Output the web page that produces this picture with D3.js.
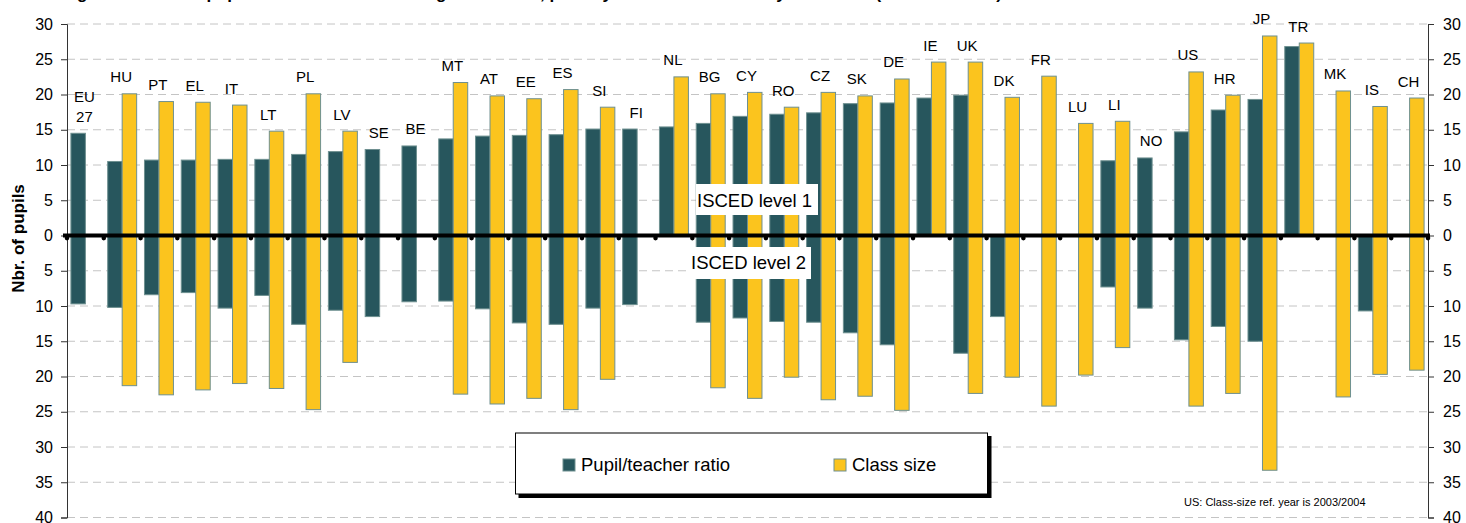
<!DOCTYPE html>
<html>
<head>
<meta charset="utf-8">
<script src="https://cdn.jsdelivr.net/npm/d3@7"></script>
<style>
  html, body { margin: 0; padding: 0; background: #fff; }
  svg { display: block; font-family: "Liberation Sans", Arial, sans-serif; }
</style>
</head>
<body>
<svg id="chart" width="1466" height="523"></svg>
<script>
// ---- data ----
const categories = ["EU\n27","HU","PT","EL","IT","LT","PL","LV","SE","BE","MT","AT","EE","ES","SI","FI","NL","BG","CY","RO","CZ","SK","DE","IE","UK","DK","FR","LU","LI","NO","US","HR","JP","TR","MK","IS","CH"];
// ISCED level 1 (upper half)
const ptrLevel1 = [14.5,10.5,10.7,10.7,10.8,10.8,11.5,11.9,12.2,12.7,13.7,14.1,14.2,14.3,15.1,15.1,15.4,15.9,16.9,17.2,17.4,18.7,18.8,19.5,19.9,null,null,null,10.6,11.0,14.7,17.8,19.3,26.8,null,null,null];
const csLevel1  = [null,20.1,19.0,18.9,18.5,14.8,20.1,14.8,null,null,21.7,19.8,19.4,20.7,18.2,null,22.5,20.1,20.3,18.2,20.3,19.8,22.2,24.6,24.6,19.6,22.6,15.9,16.2,null,23.2,19.9,28.3,27.3,20.5,18.3,19.5];
// ISCED level 2 (lower half)
const ptrLevel2 = [9.7,10.2,8.4,8.1,10.3,8.5,12.6,10.6,11.5,9.4,9.3,10.4,12.4,12.6,10.3,9.8,null,12.3,11.7,12.2,12.3,13.8,15.5,null,16.7,11.5,null,null,7.3,10.3,14.8,12.9,15.0,null,null,10.7,null];
const csLevel2  = [null,21.3,22.6,21.9,21.0,21.7,24.7,18.0,null,null,22.5,23.9,23.1,24.7,20.4,null,null,21.6,23.1,20.1,23.3,22.8,24.8,null,22.4,20.1,24.2,19.8,15.9,null,24.2,22.4,33.3,null,22.9,19.7,19.1];
const yTicks = [30,25,20,15,10,5,0,-5,-10,-15,-20,-25,-30,-35,-40];
const seriesNames = ["Pupil/teacher ratio","Class size"];
const levelLabels = ["ISCED level 1","ISCED level 2"];
const titleText = "Figure 1: Ratio of pupils to teachers and average class size, primary and lower secondary education (ISCED 1 and 2)";
const noteText = "US: Class-size ref. year is 2003/2004";

// ---- layout ----
const C_PTR = "#27565d", C_CS = "#fbc41e", C_EDGE = "#6e9090";
const svg = d3.select("#chart");
const L = 67, R = 1428;
const y = d3.scaleLinear().domain([30, -40]).range([24, 517.5]);
const x = d3.scaleBand().domain(categories).range([L, R]).padding(0);
const x1 = d3.scaleBand().domain(["ptr","cs"]).range([0, x.bandwidth()]).paddingInner(0).paddingOuter(0.27);

// title (mostly outside the picture, as in the reference)
svg.append("text").attr("x", 62).attr("y", -1)
  .attr("font-size", 17).attr("font-weight", "bold").attr("fill", "#000").text(titleText);

// gridlines
svg.append("g").selectAll("line").data(yTicks.filter(d => d !== 0)).join("line")
  .attr("x1", L).attr("x2", R).attr("y1", d => y(d)).attr("y2", d => y(d))
  .attr("stroke", "#c4c4c4").attr("stroke-width", 1).attr("stroke-dasharray", "8,5");

// bars
const rows = categories.map((c, i) => ({c, p1: ptrLevel1[i], s1: csLevel1[i], p2: ptrLevel2[i], s2: csLevel2[i]}));
const bars = [];
rows.forEach(r => {
  if (r.p1 != null) bars.push({c: r.c, k: "ptr", v: r.p1});
  if (r.s1 != null) bars.push({c: r.c, k: "cs", v: r.s1});
  if (r.p2 != null) bars.push({c: r.c, k: "ptr", v: -r.p2});
  if (r.s2 != null) bars.push({c: r.c, k: "cs", v: -r.s2});
});
svg.append("g").selectAll("rect").data(bars).join("rect")
  .attr("x", d => x(d.c) + x1(d.k))
  .attr("width", x1.bandwidth())
  .attr("y", d => Math.min(y(0), y(d.v)))
  .attr("height", d => Math.abs(y(d.v) - y(0)))
  .attr("fill", d => d.k === "ptr" ? C_PTR : C_CS)
  .attr("stroke", C_EDGE).attr("stroke-width", 1);

// axes
const fmt = d => Math.abs(d);
const axL = svg.append("g").attr("transform", `translate(${L},0)`)
  .call(d3.axisLeft(y).tickValues(yTicks).tickFormat(fmt).tickSize(6).tickPadding(8));
const axR = svg.append("g").attr("transform", `translate(${R},0)`)
  .call(d3.axisRight(y).tickValues(yTicks).tickFormat(fmt).tickSize(6).tickPadding(9));
[axL, axR].forEach(a => {
  a.select(".domain").attr("stroke", "#333");
  a.selectAll(".tick line").attr("stroke", "#333");
  a.selectAll(".tick text").attr("font-size", 16).attr("fill", "#000")
    .attr("font-family", "Liberation Sans, Arial, sans-serif");
});

// zero line with markers
svg.append("line").attr("x1", L - 4).attr("x2", R + 2).attr("y1", y(0)).attr("y2", y(0))
  .attr("stroke", "#000").attr("stroke-width", 4);
const bounds = categories.map(c => x(c)).concat([R]);
svg.append("g").selectAll("circle").data(bounds).join("circle")
  .attr("cx", d => d).attr("cy", y(0) + 2.6).attr("r", 2.3).attr("fill", "#000");

// level labels with white boxes
svg.append("rect").attr("x", 696).attr("y", 184).attr("width", 122).attr("height", 31).attr("fill", "#fff");
svg.append("text").attr("x", 697).attr("y", 207).attr("font-size", 18.5).attr("fill", "#000").text(levelLabels[0]);
svg.append("rect").attr("x", 688).attr("y", 247).attr("width", 123).attr("height", 32).attr("fill", "#fff");
svg.append("text").attr("x", 691).attr("y", 268.5).attr("font-size", 18.5).attr("fill", "#000").text(levelLabels[1]);

// country labels
const lab = svg.append("g").attr("font-size", 15).attr("fill", "#000").attr("text-anchor", "middle");
rows.forEach(r => {
  const top = d3.max([r.p1, r.s1].filter(v => v != null));
  const cx = x(r.c) + x.bandwidth() / 2 - 1;
  const lines = r.c.split("\n");
  const base = y(top) - 11.5;
  lines.slice().reverse().forEach((t, j) => {
    lab.append("text").attr("x", cx).attr("y", base - j * 20).text(t);
  });
});

// legend
const lg = svg.append("g");
lg.append("rect").attr("x", 518.5).attr("y", 436).attr("width", 473).attr("height", 62).attr("fill", "#000");
lg.append("rect").attr("x", 515.5).attr("y", 433).attr("width", 472).attr("height", 61)
  .attr("fill", "#fff").attr("stroke", "#000").attr("stroke-width", 1);
const legItems = [{n: seriesNames[0], c: C_PTR, x: 563}, {n: seriesNames[1], c: C_CS, x: 834}];
legItems.forEach(it => {
  lg.append("rect").attr("x", it.x).attr("y", 459).attr("width", 12).attr("height", 12)
    .attr("fill", it.c).attr("stroke", C_EDGE).attr("stroke-width", 1);
  lg.append("text").attr("x", it.x + 18).attr("y", 471).attr("font-size", 18.5).attr("fill", "#000").text(it.n);
});

// y title
svg.append("text").attr("transform", "translate(24,238.5) rotate(-90)")
  .attr("text-anchor", "middle").attr("font-size", 17).attr("font-weight", "bold").attr("fill", "#000")
  .text("Nbr. of pupils");

// note
svg.append("text").attr("x", 1184).attr("y", 506).attr("font-size", 11).attr("fill", "#000").text(noteText);
</script>
</body>
</html>
